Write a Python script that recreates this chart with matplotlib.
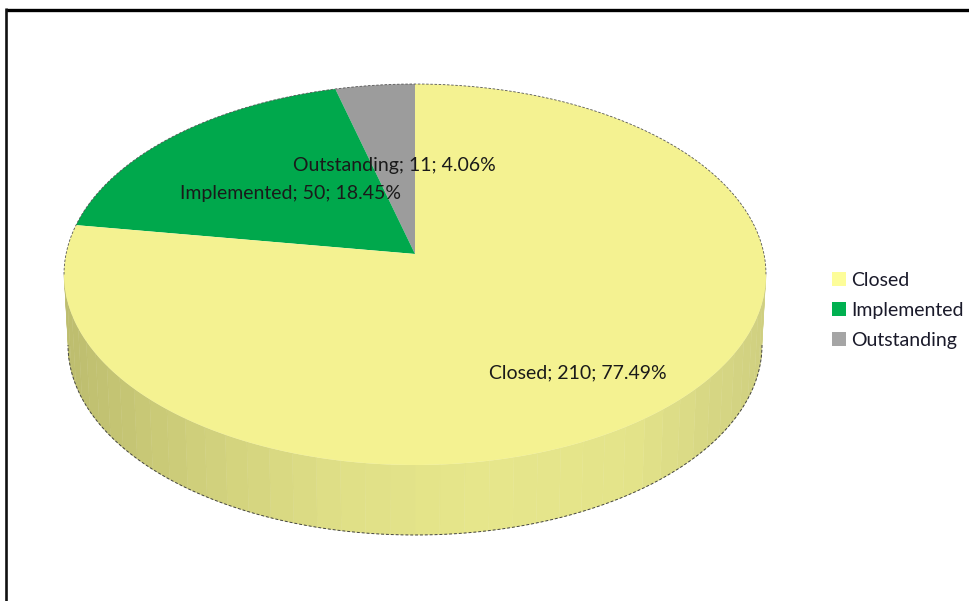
import numpy as np
import matplotlib
matplotlib.use('Agg')
import matplotlib.pyplot as plt
from matplotlib.patches import Patch
from matplotlib.colors import to_rgb

categories = ['Closed', 'Implemented', 'Outstanding']
values = [210, 50, 11]
percents = ['77.49%', '18.45%', '4.06%']
top_colors = ['#F4F291', '#00A84C', '#9C9C9C']
legend_colors = ['#FDFD99', '#00B050', '#A5A5A5']

plt.rcParams['font.family'] = ['Lato', 'DejaVu Sans']

fig = plt.figure(figsize=(9.7, 6.01), dpi=100)
ax = fig.add_axes([0, 0, 1, 1])
ax.set_xlim(0, 970)
ax.set_ylim(601, 0)
ax.axis('off')

# disc geometry, in pixels
cx, cy = 415, 274.5
rx, ry = 351, 190.5
low_cy, low_rx, low_ry = 345, 347, 190
tilt = (cy - 254) / ry  # perspective pushes the centre of the disc backwards


def rim(theta):
    # theta in radians, clockwise from 12 o'clock, perspective applied
    x, y = np.sin(theta), np.cos(theta)
    d = 1 + tilt * y
    return x * np.sqrt(1 - tilt**2) / d, (y + tilt) / d


# side wall first, split in strips for the shading
stops_x = [-1.0, -0.6, -0.2, 0.2, 0.6, 1.0]
stops_c = ['#BDBD6E', '#D0D07C', '#E0E087', '#E6E68B', '#E4E48A', '#CFCF80']
edges = np.linspace(np.pi / 2, 3 * np.pi / 2, 45)
for a, b in zip(edges[:-1], edges[1:]):
    t = np.linspace(a, b, 8)
    xt, yt = np.sin(t), np.cos(t)
    top_x, top_y = cx + rx * xt, cy - ry * yt
    bot_x, bot_y = cx + low_rx * xt, low_cy - low_ry * yt
    m = np.sin((a + b) / 2)
    col = [np.interp(m, stops_x, [to_rgb(c)[i] for c in stops_c]) for i in range(3)]
    ax.fill(np.r_[top_x, bot_x[::-1]], np.r_[top_y, bot_y[::-1]], color=col, lw=0.3)

# outer outline of the wall
t = np.linspace(np.pi / 2, 3 * np.pi / 2, 300)
ax.plot(cx + low_rx * np.sin(t), low_cy - low_ry * np.cos(t), color='#444444', lw=0.7, ls=(0, (3, 2)))

# slices, going anticlockwise from 12 o'clock like the source chart
fractions = np.array(values) / sum(values)
ends = 2 * np.pi * (1 - np.r_[0, np.cumsum(fractions[::-1])])
order = [2, 1, 0]
for k, i in enumerate(order):
    t = np.linspace(ends[k + 1], ends[k], 300)
    u, v = rim(t)
    ax.fill(np.r_[cx, cx + rx * u], np.r_[254, cy - ry * v], color=top_colors[i], lw=0)

# back half of the rim only, the front runs straight into the wall
t = np.linspace(-np.pi / 2, np.pi / 2, 300)
ax.plot(cx + rx * np.sin(t), cy - ry * np.cos(t), color='#555555', lw=0.6, ls=(0, (3, 2)))

label_pos = [(578, 373), (290.5, 193.5), (394.5, 165)]
for name, val, pct, pos in zip(categories, values, percents, label_pos):
    ax.text(pos[0], pos[1], f'{name}; {val}; {pct}', ha='center', va='center',
            fontsize=14, color='#1A1A1A')

handles = [Patch(facecolor=c, edgecolor='none', label=n) for c, n in zip(legend_colors, categories)]
ax.legend(handles=handles, loc='upper left', bbox_to_anchor=(816, 256),
          bbox_transform=ax.transData, frameon=False, fontsize=14,
          handlelength=0.72, handleheight=0.72, handletextpad=0.3,
          labelspacing=0.67, borderpad=0.3, labelcolor='#1A1A2A')

# frame from the pasted screenshot, top and left only
ax.plot([6, 970], [9.5, 9.5], color='black', lw=2.4, solid_capstyle='butt')
ax.plot([6.5, 6.5], [8, 601], color='#111111', lw=1.9, solid_capstyle='butt')

fig.savefig('out.png', dpi=100)
